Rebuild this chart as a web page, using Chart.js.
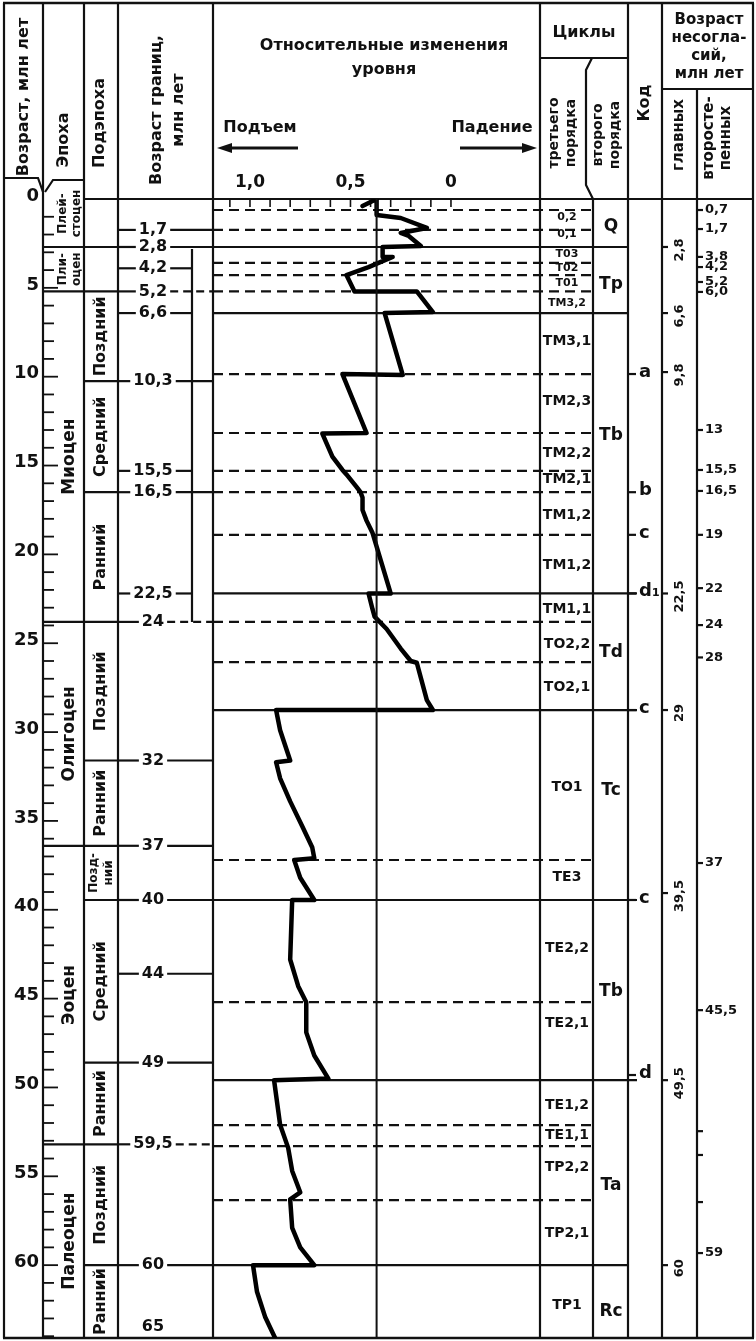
<!DOCTYPE html>
<html lang="ru">
<head>
<meta charset="utf-8">
<title>Относительные изменения уровня</title>
<script src="https://cdn.jsdelivr.net/npm/chart.js@4.4.1/dist/chart.umd.min.js"></script>
<style>
  html, body { margin: 0; padding: 0; background: #fff; }
  #wrap { width: 756px; height: 1341px; }
</style>
</head>
<body>
<div id="wrap"><canvas id="chart" width="756" height="1341"></canvas></div>
<script>
// шкала возраста слева, млн лет
const ageTicks = [0, 5, 10, 15, 20, 25, 30, 35, 40, 45, 50, 55, 60];
const ageMax = 64.1;

// эпохи и подэпохи (границы — как нарисованы)
const epochNames = ['Плей-\nстоцен', 'Пли-\nоцен', 'Миоцен', 'Олигоцен', 'Эоцен', 'Палеоцен'];
const epochBounds = [0, 2.7, 5.2, 23.8, 36.4, 53.2, 64.1];
const subNames = ['', '', 'Поздний', 'Средний', 'Ранний', 'Поздний', 'Ранний', 'Позд-\nний', 'Средний', 'Ранний', 'Поздний', 'Ранний'];
const subBounds = [0, 2.7, 5.2, 10.25, 16.5, 23.8, 31.6, 36.4, 39.45, 48.6, 53.2, 60, 64.1];

// возраст границ, млн лет
const boundaryLabels = ['1,7', '2,8', '4,2', '5,2', '6,6', '10,3', '15,5', '16,5', '22,5', '24', '32', '37', '40', '44', '49', '59,5', '60', '65'];
const boundaryAges = [1.74, 2.7, 3.9, 5.2, 6.42, 10.25, 15.3, 16.5, 22.2, 23.8, 31.6, 36.4, 39.45, 43.6, 48.6, 53.2, 60, 63.5];

// шкала уровня (Подъем влево, Падение вправо)
const levelTicks = [1.1, 1.0, 0.9, 0.8, 0.7, 0.6, 0.5, 0.4, 0.3, 0.2, 0.1, 0];
const levelLabels = ['1,0', '0,5', '0'];
const levelLabelValues = [1, 0.5, 0];
const refLevel = 0.37;

// кривая относительного изменения уровня
const curveLevel = [0.44, 0.37, 0.37, 0.25, 0.12, 0.25, 0.21, 0.15, 0.34, 0.34, 0.29, 0.41, 0.52, 0.48, 0.17, 0.09, 0.33, 0.24, 0.54, 0.42,
  0.64, 0.59, 0.54, 0.52, 0.47, 0.45, 0.44, 0.44, 0.42, 0.39, 0.30, 0.41, 0.39, 0.38, 0.32, 0.25, 0.20, 0.17, 0.12, 0.09,
  0.87, 0.85, 0.80, 0.87, 0.85, 0.80, 0.74, 0.69, 0.68, 0.78, 0.75, 0.68, 0.79, 0.80, 0.76, 0.72, 0.72, 0.68, 0.61, 0.88,
  0.85, 0.81, 0.79, 0.75, 0.80, 0.79, 0.75, 0.68, 0.985, 0.965, 0.925, 0.875];
const curveAge = [0.4, 0, 0.9, 1.07, 1.63, 1.91, 2.08, 2.65, 2.7, 3.26, 3.26, 3.83, 4.28, 5.2, 5.2, 6.36, 6.42, 9.9, 9.85, 13.17,
  13.2, 14.5, 15.25, 15.5, 16.2, 16.5, 16.8, 17.5, 18.1, 18.8, 22.2, 22.2, 23.1, 23.5, 24.2, 25.3, 26.0, 26.1, 28.2, 28.76,
  28.76, 29.9, 31.6, 31.7, 32.6, 33.9, 35.3, 36.5, 37.1, 37.2, 38.2, 39.45, 39.45, 42.8, 44.3, 45.2, 46.9, 48.2, 49.5, 49.6,
  52.1, 53.4, 54.7, 55.9, 56.3, 57.9, 59.0, 60, 60, 61.5, 62.9, 64.1];

// линии несогласий
const mainLines = [2.7, 6.42, 22.2, 28.76, 39.45, 49.59, 60];
const minorLines = [0.62, 1.74, 3.6, 4.28, 5.2, 9.85, 13.17, 15.3, 16.5, 18.9, 23.8, 26.06, 37.2, 45.2, 52.12, 53.3, 56.34];

// циклы
const cycle3Labels = ['0,2', '0,1', 'T03', 'T02', 'T01', 'TM3,2', 'TM3,1', 'TM2,3', 'TM2,2', 'TM2,1', 'TM1,2', 'TM1,2', 'TM1,1',
  'TO2,2', 'TO2,1', 'TO1', 'TE3', 'TE2,2', 'TE2,1', 'TE1,2', 'TE1,1', 'TP2,2', 'TP2,1', 'TP1'];
const cycle3Ages = [1.0, 1.95, 3.1, 3.9, 4.75, 5.85, 8.0, 11.4, 14.3, 15.8, 17.8, 20.6, 23.1, 25.05, 27.5, 33.1, 38.2, 42.2, 46.4,
  51.0, 52.7, 54.5, 58.2, 62.25];
const cycle2Labels = ['Q', 'Tp', 'Tb', 'Td', 'Tc', 'Tb', 'Ta', 'Rc'];
const cycle2Ages = [1.58, 4.84, 13.34, 25.5, 33.3, 44.6, 55.5, 62.6];

// код
const codeLabels = ['a', 'b', 'c', 'd₁', 'c', 'c', 'd'];
const codeAges = [9.85, 16.5, 18.9, 22.2, 28.76, 39.45, 49.3];

// возраст несогласий: главных / второстепенных
const mainUncLabels = ['2,8', '6,6', '9,8', '22,5', '29', '39,5', '49,5', '60'];
const mainUncAges = [2.7, 6.42, 9.74, 22.2, 28.76, 39.06, 49.59, 60];
const minorUncLabels = ['0,7', '1,7', '3,8', '4,2', '5,2', '6,0', '13', '15,5', '16,5', '19', '22', '24', '28', '37', '45,5', '', '', '', '59'];
const minorUncAges = [0.62, 1.69, 3.26, 3.83, 4.67, 5.23, 13.0, 15.25, 16.43, 18.9, 21.9, 23.98, 25.8, 37.37, 45.65, 52.46, 53.8, 56.45, 59.32];

const FONT = '"DejaVu Sans", Arial, sans-serif';

function seg(ctx, x1, y1, x2, y2, w, dash) {
    ctx.save();
    ctx.lineWidth = w || 2;
    ctx.strokeStyle = '#111';
    ctx.setLineDash(dash || []);
    ctx.beginPath();
    ctx.moveTo(x1, y1);
    ctx.lineTo(x2, y2);
    ctx.stroke();
    ctx.restore();
}

function poly(ctx, pts, w) {
    ctx.save();
    ctx.lineWidth = w || 2;
    ctx.strokeStyle = '#111';
    ctx.beginPath();
    pts.forEach((p, i) => i ? ctx.lineTo(p[0], p[1]) : ctx.moveTo(p[0], p[1]));
    ctx.stroke();
    ctx.restore();
}

function txt(ctx, s, x, y, size, o = {}) {
    ctx.save();
    ctx.font = 'bold ' + size + 'px ' + FONT;
    ctx.textAlign = o.align || 'center';
    ctx.textBaseline = 'middle';
    ctx.fillStyle = '#111';
    ctx.translate(x, y);
    if (o.rot) ctx.rotate(-Math.PI / 2);
    const rows = String(s).split('\n');
    const lh = o.lh || size * 1.15;
    rows.forEach((r, i) => ctx.fillText(r, 0, (i - (rows.length - 1) / 2) * lh));
    ctx.restore();
}

function arrow(ctx, x1, x2, y) {
    const d = x2 > x1 ? 1 : -1;
    seg(ctx, x1, y, x2 - d * 10, y, 3);
    ctx.save();
    ctx.fillStyle = '#111';
    ctx.beginPath();
    ctx.moveTo(x2, y);
    ctx.lineTo(x2 - d * 15, y - 5);
    ctx.lineTo(x2 - d * 15, y + 5);
    ctx.closePath();
    ctx.fill();
    ctx.restore();
}

// таблица вокруг графика: колонки, подписи, линии несогласий
const tablePlugin = {
    id: 'table',
    beforeDatasetsDraw(chart) {
        const ctx = chart.ctx;
        const Y = a => chart.scales.y.getPixelForValue(a);
        const X = v => chart.scales.x.getPixelForValue(v);
        const top = Y(0), bot = Y(ageMax);

        // рамка и вертикальные линии
        seg(ctx, 3, 3, 754, 3, 2.5);
        seg(ctx, 3, bot, 754, bot, 2.5);
        [4, 43, 84, 118, 213, 540, 628, 662, 753].forEach(x => seg(ctx, x, 3, x, bot, 2.2));
        seg(ctx, 697, 89, 697, bot, 2.2);
        poly(ctx, [[592, 58], [586, 70], [586, 185], [593, top]], 2.2);
        seg(ctx, 593, top, 593, bot, 2.2);
        seg(ctx, 540, 58, 628, 58, 2.2);
        seg(ctx, 662, 89, 753, 89, 2.2);
        seg(ctx, 84, top, 753, top, 2.2);
        poly(ctx, [[4, 178], [38, 178], [43, 192]], 2.2);
        poly(ctx, [[45, 192], [53, 180], [84, 180]], 2.2);

        // заголовки
        txt(ctx, 'Возраст, млн лет', 24, 97, 16, { rot: true });
        txt(ctx, 'Эпоха', 64, 140, 16, { rot: true });
        txt(ctx, 'Подэпоха', 100, 123, 16, { rot: true });
        txt(ctx, 'Возраст границ,\nмлн лет', 168, 110, 16, { rot: true, lh: 22 });
        txt(ctx, 'Относительные изменения', 384, 46, 16);
        txt(ctx, 'уровня', 384, 70, 16);
        txt(ctx, 'Подъем', 260, 128, 16);
        txt(ctx, 'Падение', 492, 128, 16);
        arrow(ctx, 298, 217, 148);
        arrow(ctx, 460, 537, 148);
        txt(ctx, 'Циклы', 584, 33, 16);
        txt(ctx, 'третьего\nпорядка', 563, 133, 14, { rot: true, lh: 17 });
        txt(ctx, 'второго\nпорядка', 607, 135, 14, { rot: true, lh: 17 });
        txt(ctx, 'Код', 645, 103, 16, { rot: true });
        txt(ctx, 'Возраст\nнесогла-\nсий,\nмлн лет', 709, 47, 15, { lh: 18 });
        txt(ctx, 'главных', 679, 135, 15, { rot: true });
        txt(ctx, 'второсте-\nпенных', 718, 138, 15, { rot: true, lh: 17 });

        // шкала возраста
        for (let a = 1; a <= Math.floor(ageMax); a++) {
            seg(ctx, 43, Y(a), a % 5 === 0 ? 58 : 54, Y(a), 1.8);
        }
        ageTicks.forEach(a => txt(ctx, String(a), 39, Y(a) - 3, 18, { align: 'right' }));

        // эпохи
        epochNames.forEach((n, i) => {
            const a0 = epochBounds[i], a1 = epochBounds[i + 1];
            const y0 = i === 0 ? 180 : Y(a0);
            const small = Y(a1) - y0 < 80;
            txt(ctx, n, 70, (y0 + Y(a1)) / 2, small ? 12 : 17, { rot: true, lh: 14 });
            if (i > 0) seg(ctx, 43, Y(a0), 118, Y(a0), 2.2);
        });

        // подэпохи
        subNames.forEach((n, i) => {
            const a0 = subBounds[i], a1 = subBounds[i + 1];
            if (i > 0 && !epochBounds.includes(a0)) seg(ctx, 84, Y(a0), 118, Y(a0), 2.2);
            if (n) txt(ctx, n, 101, (Y(a0) + Y(a1)) / 2, n.includes('\n') ? 12 : 16, { rot: true, lh: 15 });
        });

        // возраст границ
        ctx.font = 'bold 16px ' + FONT;
        boundaryLabels.forEach((s, i) => {
            const a = boundaryAges[i], y = Y(a);
            const w = ctx.measureText(s).width;
            txt(ctx, s, 153, y, 16);
            if (i === boundaryLabels.length - 1) return;
            seg(ctx, 119, y, 153 - w / 2 - 3, y, 2.2);
            const inBracket = a > 2.7 && a < 23.8;
            const end = (subBounds.includes(a) || !inBracket) ? 213 : 192;
            const dashed = epochBounds.includes(a) && minorLines.some(m => Math.abs(m - a) < 0.25);
            seg(ctx, 153 + w / 2 + 3, y, end, y, 2.2, dashed ? [8, 5] : null);
        });
        seg(ctx, 192, Y(2.7) + 2, 192, Y(23.8), 2.2);

        // шкала уровня
        levelTicks.forEach(v => seg(ctx, X(v), top, X(v), top + 8, 1.6));
        levelLabelValues.forEach((v, i) => txt(ctx, levelLabels[i], X(v), 183, 17));

        // линии несогласий
        mainLines.forEach(a => {
            const hasCode = codeAges.some(c => Math.abs(c - a) < 0.35);
            seg(ctx, 213, Y(a), hasCode ? 637 : 628, Y(a), 2.2);
        });
        minorLines.forEach(a => seg(ctx, 213, Y(a), 593, Y(a), 2.2, [10, 6]));

        // циклы третьего и второго порядка
        cycle3Labels.forEach((s, i) => {
            const a = cycle3Ages[i];
            const gap = Math.min(i > 0 ? a - cycle3Ages[i - 1] : 9, i < cycle3Ages.length - 1 ? cycle3Ages[i + 1] - a : 9);
            txt(ctx, s, 567, Y(a), gap < 1.2 ? 11 : 14);
        });
        cycle2Labels.forEach((s, i) => txt(ctx, s, 611, Y(cycle2Ages[i]), 17));

        // код
        codeLabels.forEach((s, i) => {
            const y = Y(codeAges[i]);
            seg(ctx, 628, y, 636, y, 2.2);
            txt(ctx, s, 639, y - 2, 18, { align: 'left' });
        });

        // возраст несогласий
        mainUncLabels.forEach((s, i) => {
            const y = Y(mainUncAges[i]);
            seg(ctx, 662, y, 668, y, 2.2);
            txt(ctx, s, 680, y + 3, 13, { rot: true });
        });
        minorUncLabels.forEach((s, i) => {
            const y = Y(minorUncAges[i]);
            seg(ctx, 697, y, 703, y, 2.2);
            if (s) txt(ctx, s, 705, y, 13, { align: 'left' });
        });
    }
};

const curvePoints = curveLevel.map((v, i) => ({ x: v, y: curveAge[i] }));

new Chart(document.getElementById('chart'), {
    type: 'scatter',
    data: {
        datasets: [
            {
                data: [{ x: refLevel, y: 0 }, { x: refLevel, y: ageMax }],
                showLine: true,
                borderColor: '#111',
                borderWidth: 2,
                pointRadius: 0
            },
            {
                data: curvePoints,
                showLine: true,
                borderColor: '#000',
                borderWidth: 4.5,
                borderJoinStyle: 'round',
                borderCapStyle: 'round',
                pointRadius: 0,
                tension: 0
            }
        ]
    },
    options: {
        responsive: false,
        devicePixelRatio: 1,
        animation: false,
        layout: { padding: { left: 214, right: 216, top: 199, bottom: 3 } },
        scales: {
            x: { type: 'linear', reverse: true, min: -0.443, max: 1.179, display: false },
            y: { type: 'linear', reverse: true, min: 0, max: ageMax, display: false }
        },
        plugins: { legend: { display: false }, tooltip: { enabled: false } }
    },
    plugins: [tablePlugin]
});
</script>
</body>
</html>
